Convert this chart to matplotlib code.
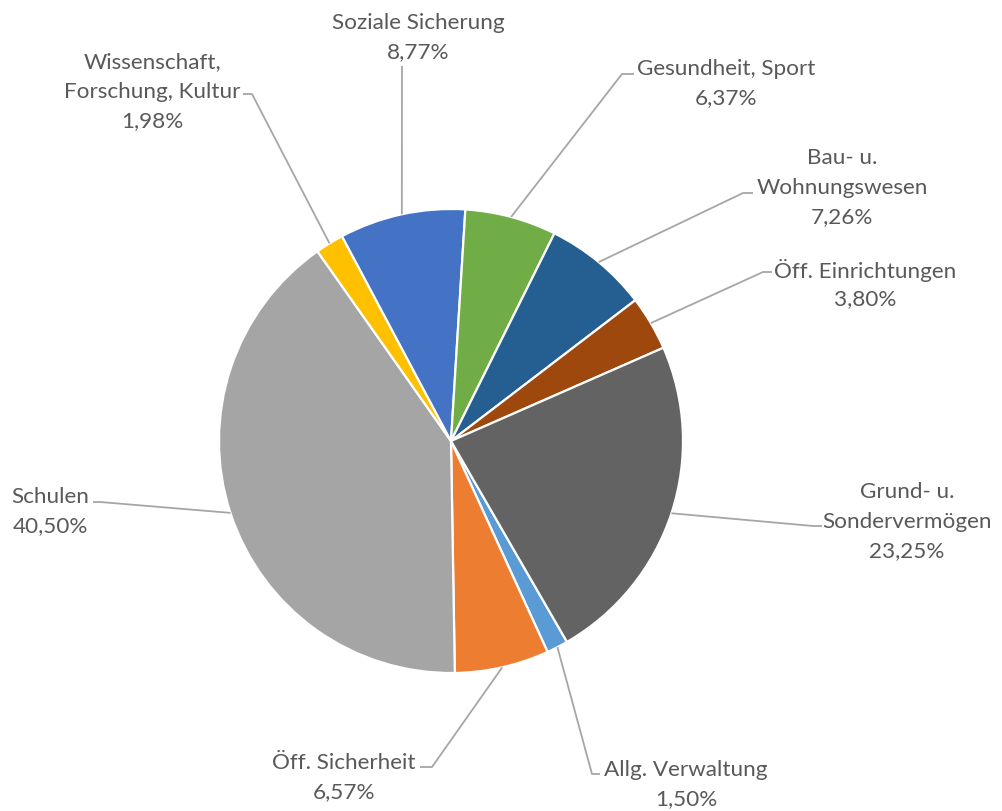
import matplotlib
matplotlib.use("Agg")
from matplotlib import pyplot as plt
import numpy as np

# Anteile der Bereiche (Prozent), Reihenfolge wie in der Tabelle
bereiche = ["Allg. Verwaltung", "Öff. Sicherheit", "Schulen",
            "Wissenschaft,\nForschung, Kultur", "Soziale Sicherung",
            "Gesundheit, Sport", "Bau- u.\nWohnungswesen",
            "Öff. Einrichtungen", "Grund- u.\nSondervermögen"]
anteile = [1.50, 6.57, 40.50, 1.98, 8.77, 6.37, 7.26, 3.80, 23.25]
farben = ["#5B9BD5", "#ED7D31", "#A5A5A5", "#FFC000", "#4472C4",
          "#70AD47", "#255E91", "#9E480E", "#636363"]

W, H = 1003, 812
cx, cy, r = 451, 442, 232   # Mitte und Radius in Pixeln (y von oben)
erster_winkel = 150          # Winkel des ersten Segments, im Uhrzeigersinn ab 12 Uhr

# Beschriftung: Mitte der ersten Zeile, dann Knick und Ende der Fuehrungslinie
label_pos = [(686, 770), (344, 763), (50, 497), (152, 62), (418, 23),
             (726, 69), (842, 158), (865, 270), (907, 492)]
linie_knick = [(592, 775), (432, 768), (100, 503), (252, 95), (402, 67),
               (622, 75), (743, 194), (763, 273), (813, 527)]
linie_ende = [(600, 775), (420, 768), (93, 503), (243, 95), None,
              (634, 75), (753, 194), (772, 273), (822, 527)]

plt.rcParams['font.family'] = ['Lato', 'DejaVu Sans']
fig = plt.figure(figsize=(W / 100, H / 100), dpi=100)
ax = fig.add_axes([0, 0, 1, 1])

def py(y):
    # Pixel von oben -> Datenkoordinate von unten
    return H - y

ax.pie(anteile, colors=farben, startangle=90 - erster_winkel, counterclock=False,
       center=(cx, py(cy)), radius=r, frame=True,
       wedgeprops=dict(edgecolor="white", linewidth=1.6))

ax.set_xlim(0, W)
ax.set_ylim(0, H)
ax.set_aspect("equal")
ax.axis("off")

# Winkel der Segmentmitten (im Uhrzeigersinn ab 12 Uhr)
grenzen = erster_winkel + np.concatenate([[0], np.cumsum(anteile)]) * 3.6
mitten = (grenzen[:-1] + grenzen[1:]) / 2

for i, name in enumerate(bereiche):
    a = np.radians(mitten[i])
    ex = cx + r * np.sin(a)
    ey = cy - r * np.cos(a)
    xs = [ex, linie_knick[i][0]]
    ys = [ey, linie_knick[i][1]]
    if linie_ende[i] is not None:
        xs.append(linie_ende[i][0])
        ys.append(linie_ende[i][1])
    ax.plot(xs, [py(y) for y in ys], color="#A6A6A6", lw=1.3,
            solid_capstyle="butt", zorder=1)

    zeilen = name.split("\n") + [f"{anteile[i]:.2f}%".replace(".", ",")]
    lx, ly = label_pos[i]
    for j, z in enumerate(zeilen):
        ax.text(lx, py(ly + j * 29.5), z, ha="center", va="center",
                fontsize=16.2, color="#595959")

fig.savefig("out.png", dpi=100, facecolor="white")
